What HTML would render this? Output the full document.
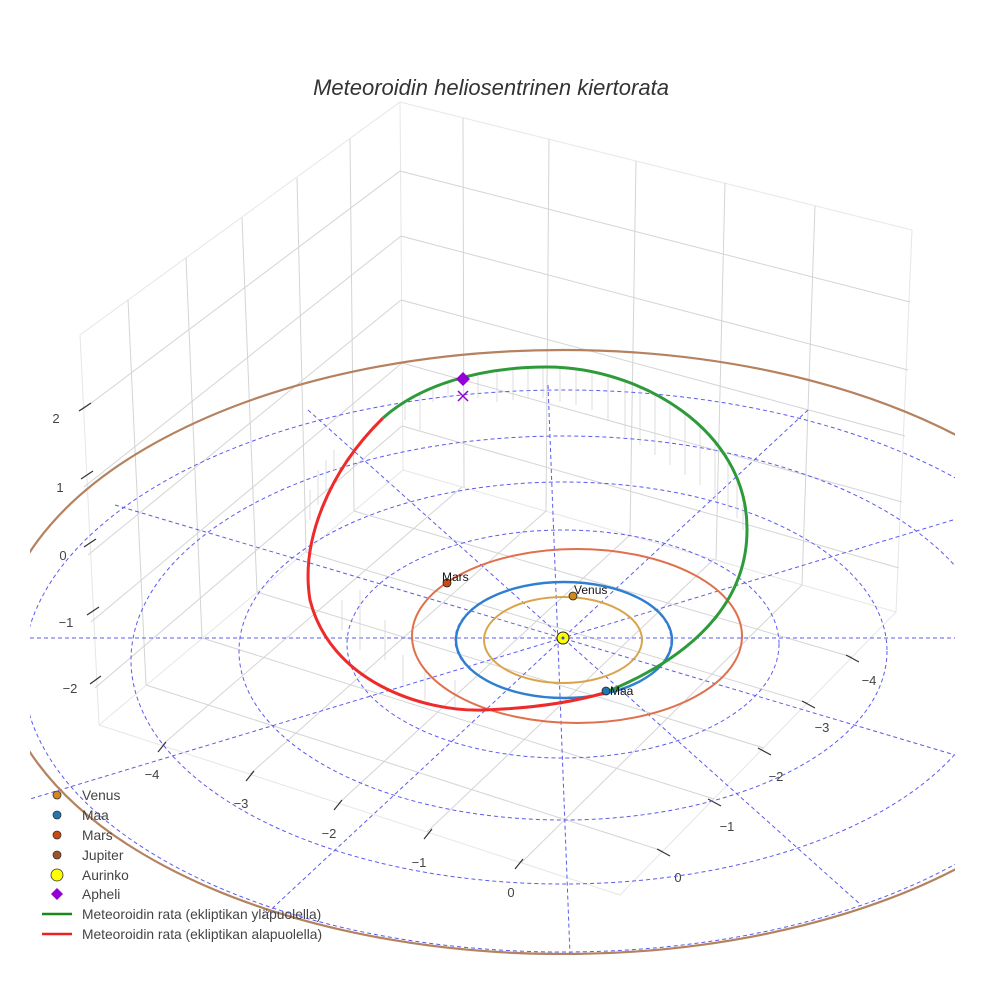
<!DOCTYPE html>
<html><head><meta charset="utf-8"><style>
html,body{margin:0;padding:0;background:#fff;}
svg{display:block;font-family:"Liberation Sans",sans-serif;}
</style></head><body>
<svg width="984" height="984" viewBox="0 0 984 984" xmlns="http://www.w3.org/2000/svg">
<defs><clipPath id="c"><rect x="30" y="0" width="925" height="955"/></clipPath></defs>
<rect width="984" height="984" fill="#fff"/>
<text x="491" y="95" text-anchor="middle" font-size="22" font-style="italic" fill="#333">Meteoroidin heliosentrinen kiertorata</text>
<g stroke="#d4d4d4" stroke-width="1" fill="none">
<path d="M80,335 L400,102 L912,230 M80,335 L99,725 L620,895 L896,612 L912,230 M400,102 L403,470 L99,725 M403,470 L896,612" stroke="#e6e6e6"/>
<path d="M128,300 L146,685 M186,258 L202,638 M242,218 L257,592 M297,178 L306,552 M350,139 L354,511"/>
<path d="M463,118 L464,487 M549,139 L546,511 M636,161 L630,535 M725,183 L716,560 M815,206 L802,585"/>
<path d="M400,171 L82,410 M401,236 L84,487 M401,300 L88,555 M402,363 L91,622 M402,426 L95,688"/>
<path d="M400,171 L910,302 M401,236 L908,370 M401,300 L905,436 M402,363 L902,502 M402,426 L899,568"/>
<path d="M162,745 L462,487 M250,774 L546,511 M339,803 L630,535 M427,832 L714,559 M521,863 L802,585"/>
<path d="M663,851 L146,685 M714,799 L202,638 M764,748 L257,592 M808,703 L306,552 M852,657 L354,511"/>
</g>
<g stroke="#333" stroke-width="1.2">
<path d="M79,411 L91,403 M81,479 L93,471 M84,547 L96,539 M87,615 L99,607 M90,684 L101,676"/>
<path d="M158,752 L166,742 M246,781 L254,771 M334,810 L342,800 M424,839 L432,829 M515,869 L523,859"/>
<path d="M846,655 L859,662 M802,701 L815,708 M758,748 L771,755 M708,799 L721,806 M657,849 L670,856"/>
</g>
<g font-size="13" fill="#444" text-anchor="middle">
<text x="56" y="423">2</text><text x="60" y="492">1</text><text x="63" y="560">0</text><text x="66" y="627">−1</text><text x="70" y="693">−2</text>
<text x="152" y="779">−4</text><text x="241" y="808">−3</text><text x="329" y="838">−2</text><text x="419" y="867">−1</text><text x="511" y="897">0</text>
<text x="869" y="685">−4</text><text x="822" y="732">−3</text><text x="776" y="781">−2</text><text x="727" y="831">−1</text><text x="678" y="882">0</text>
</g>
<g clip-path="url(#c)">
<g stroke="#5b5bf0" stroke-width="1" fill="none" stroke-dasharray="4,3">
<ellipse cx="563" cy="640" rx="108" ry="58"/>
<ellipse cx="563" cy="644" rx="216" ry="114"/>
<ellipse cx="563" cy="651" rx="324" ry="169"/>
<ellipse cx="563" cy="660" rx="432" ry="224"/>
<ellipse cx="563" cy="671" rx="540" ry="281"/>
<path d="M30,638 L955,638 M548,385 L570,955 M115,505 L955,755 M308,410 L860,904 M808,410 L263,917 M953,520 L30,799"/>
</g>
<ellipse cx="563" cy="652" rx="565" ry="302" fill="none" stroke="#b5825f" stroke-width="2.2"/>
</g>
<g stroke="#d0d0d0" stroke-width="0.7">
<path d="M405,402 L405,420 M420,395 L420,430 M433,389 L433,402 M448,383 L448,398 M478,376 L478,398 M497,372 L497,402 M513,370 L513,400 M528,368 L528,398 M543,368 L543,398 M560,368 L560,402 M576,370 L576,405 M592,372 L592,410 M608,375 L608,420 M625,380 L625,437 M640,386 L640,445 M655,393 L655,455 M670,402 L670,465 M685,412 L685,475 M700,425 L700,485 M715,440 L715,500 M728,458 L728,510 M737,480 L737,518 M743,505 L743,530"/>
<path d="M310,490 L310,520 M318,470 L318,505 M326,460 L326,490 M334,450 L334,470 M342,600 L342,630 M360,590 L360,650 M385,620 L385,660 M403,655 L403,685 M425,668 L425,700 M455,680 L455,707"/>
</g>
<ellipse cx="563" cy="640" rx="79" ry="43" fill="none" stroke="#d9a44a" stroke-width="2"/>
<ellipse cx="564" cy="640" rx="108" ry="58" fill="none" stroke="#2e7fd0" stroke-width="2.4"/>
<ellipse cx="577" cy="636" rx="165" ry="87" fill="none" stroke="#e0704c" stroke-width="2"/>
<path d="M383,418 C420,385 480,367 547,367 C640,367 748,430 747,530 C747,590 710,650 604,693" fill="none" stroke="#2e9a3a" stroke-width="3"/>
<path d="M383,418 C330,470 300,540 310,600 C330,680 420,712 484,710 C540,708 580,700 604,693" fill="none" stroke="#ee2a2a" stroke-width="3"/>
<circle cx="573" cy="596" r="4" fill="#d4881a" stroke="#222" stroke-width="0.8"/>
<circle cx="447" cy="583" r="4" fill="#cc4a10" stroke="#222" stroke-width="0.8"/>
<circle cx="606" cy="691" r="4" fill="#1f77b4" stroke="#222" stroke-width="0.8"/>
<circle cx="563" cy="638" r="6" fill="#ffff00" stroke="#222" stroke-width="1"/>
<circle cx="563" cy="638" r="1.5" fill="#3050d0"/>
<path d="M463,372 L470,379 L463,386 L456,379 Z" fill="#9400d3"/>
<path d="M458,391 L468,401 M468,391 L458,401" stroke="#9400d3" stroke-width="1.5"/>
<g font-size="12" fill="#111">
<text x="574" y="594">Venus</text><text x="442" y="581">Mars</text><text x="610" y="695">Maa</text>
</g>
<g font-size="13.8" fill="#444">
<circle cx="57" cy="795" r="4" fill="#d4881a" stroke="#333" stroke-width="0.8"/><text x="82" y="800">Venus</text>
<circle cx="57" cy="815" r="4" fill="#1f77b4" stroke="#333" stroke-width="0.8"/><text x="82" y="820">Maa</text>
<circle cx="57" cy="835" r="4" fill="#cc4a10" stroke="#333" stroke-width="0.8"/><text x="82" y="840">Mars</text>
<circle cx="57" cy="855" r="4" fill="#a0522d" stroke="#333" stroke-width="0.8"/><text x="82" y="860">Jupiter</text>
<circle cx="57" cy="875" r="6" fill="#ffff00" stroke="#333" stroke-width="0.8"/><text x="82" y="880">Aurinko</text>
<path d="M57,888 L63,894 L57,900 L51,894 Z" fill="#9400d3"/><text x="82" y="899">Apheli</text>
<line x1="42" y1="914" x2="72" y2="914" stroke="#1a8a1a" stroke-width="2.5"/><text x="82" y="919">Meteoroidin rata (ekliptikan yläpuolella)</text>
<line x1="42" y1="934" x2="72" y2="934" stroke="#ee2020" stroke-width="2.5"/><text x="82" y="939">Meteoroidin rata (ekliptikan alapuolella)</text>
</g>
</svg>
</body></html>
